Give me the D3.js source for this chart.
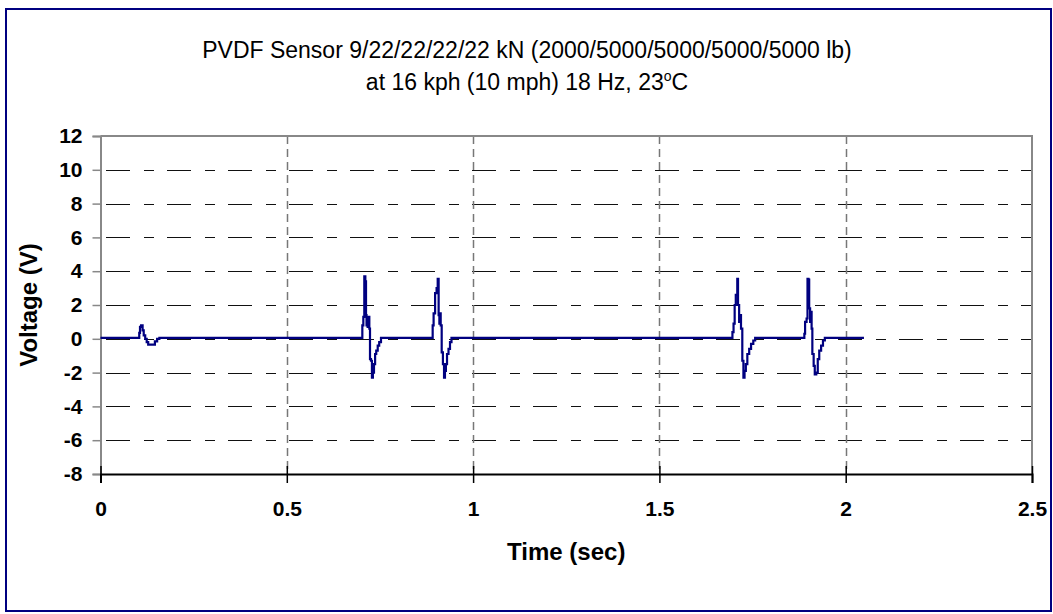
<!DOCTYPE html>
<html>
<head>
<meta charset="utf-8">
<script src="https://cdn.jsdelivr.net/npm/d3@7"></script>
<style>
  html, body { margin: 0; padding: 0; background: #fff; }
  svg { display: block; }
  text { font-family: "Liberation Sans", Arial, Helvetica, sans-serif; }
</style>
</head>
<body>
<svg id="chart" width="1053" height="614"></svg>
<script>
// ---------- data ----------
const titleLine1 = "PVDF Sensor 9/22/22/22/22 kN (2000/5000/5000/5000/5000 lb)";
const titleLine2 = "at 16 kph (10 mph) 18 Hz, 23";
const xTitle = "Time (sec)";
const yTitle = "Voltage (V)";
const xTicks = [0, 0.5, 1, 1.5, 2, 2.5];
const yTicks = [-8, -6, -4, -2, 0, 2, 4, 6, 8, 10, 12];

const timeSec = [
  0, 0.104, 0.106, 0.109, 0.113, 0.116, 0.120, 0.124, 0.128, 0.146, 0.152, 0.158, 0.164,
  0.7000, 0.7027, 0.7054, 0.7080, 0.7108, 0.7126, 0.7140, 0.7153, 0.7170, 0.7188, 0.7215,
  0.7233, 0.7260, 0.7285, 0.7310, 0.7340, 0.7370, 0.7400, 0.7440, 0.7480, 0.7528,
  0.8915, 0.8940, 0.8980, 0.9020, 0.9050, 0.9075, 0.9095, 0.9110, 0.9130,
  0.9157, 0.9190, 0.9220, 0.9245, 0.9270, 0.9300, 0.9340, 0.9380, 0.9420,
  1.6960, 1.6990, 1.7020, 1.7050, 1.7090, 1.7110, 1.7140, 1.7160, 1.7190,
  1.7225, 1.7255, 1.7285, 1.7320, 1.7360, 1.7410, 1.7460, 1.7520, 1.7570,
  1.8890, 1.8910, 1.8950, 1.8975, 1.9000, 1.9020, 1.9045, 1.9065, 1.9085,
  1.9105, 1.9140, 1.9170, 1.9210, 1.9250, 1.9290, 1.9340, 1.9390, 1.9440,
  2.049
];
const voltage = [
  0.05, 0.35, 0.70, 0.80, 0.50, 0.20, 0.00, -0.20, -0.35, -0.15, 0.00, 0.05, 0.05,
  0.05, 0.80, 1.30, 3.70, 3.40, 1.40, 0.80, 1.30, 0.70, 1.30, 0.60,
  -1.20, -1.30, -2.30, -2.00, -1.50, -0.90, -0.70, -0.40, -0.20, 0.05,
  0.80, 1.50, 2.70, 3.00, 3.55, 1.40, 0.90, 1.50, 0.80,
  -0.80, -1.50, -2.30, -1.90, -1.50, -0.90, -0.60, -0.20, 0.05,
  0.40, 0.90, 2.00, 2.60, 3.55, 2.00, 1.00, 1.40, 0.60,
  -1.30, -2.30, -1.90, -1.50, -0.90, -0.60, -0.30, -0.10, 0.05,
  0.30, 1.00, 1.20, 3.55, 3.50, 1.80, 1.00, 1.60, 0.60,
  -0.90, -1.60, -2.10, -2.00, -1.20, -0.70, -0.40, -0.10, 0.05,
  0.05
];

// ---------- layout ----------
const svg = d3.select("#chart");
const plot = { left: 100.5, right: 1032, top: 136, bottom: 474 };

const x = d3.scaleLinear().domain([0, 2.5]).range([plot.left, plot.right]);
const y = d3.scaleLinear().domain([-8, 12]).range([plot.bottom, plot.top]);

// outer frame
svg.append("rect")
  .attr("x", 6).attr("y", 9).attr("width", 1045).attr("height", 602)
  .attr("fill", "#fff").attr("stroke", "#000080").attr("stroke-width", 2);

// horizontal gridlines (dark dashed)
svg.append("g").selectAll("line")
  .data(yTicks.filter(d => d > -8 && d < 12))
  .join("line")
  .attr("x1", plot.left).attr("x2", plot.right)
  .attr("y1", d => Math.round(y(d)) + 0.5).attr("y2", d => Math.round(y(d)) + 0.5)
  .attr("stroke", "#111").attr("stroke-width", 1)
  .attr("stroke-dasharray", "24,14,10,13").attr("stroke-dashoffset", 55.5);

// vertical gridlines (gray dashed)
svg.append("g").selectAll("line")
  .data(xTicks.filter(d => d > 0 && d < 2.5))
  .join("line")
  .attr("x1", d => Math.round(x(d)) + 0.5).attr("x2", d => Math.round(x(d)) + 0.5)
  .attr("y1", plot.top).attr("y2", plot.bottom)
  .attr("stroke", "#777").attr("stroke-width", 1.5)
  .attr("stroke-dasharray", "8,5");

// plot area top and right border (gray)
svg.append("path")
  .attr("d", `M${plot.left},${plot.top}H${plot.right}V${plot.bottom}`)
  .attr("fill", "none").attr("stroke", "#888").attr("stroke-width", 2);

// y axis
const yAxis = svg.append("g")
  .attr("transform", `translate(${plot.left},0)`)
  .call(d3.axisLeft(y).tickValues(yTicks).tickSize(8).tickPadding(10).tickFormat(d => String(d)));
yAxis.select(".domain").attr("stroke", "#888").attr("stroke-width", 2);
yAxis.selectAll(".tick line").attr("stroke", "#888").attr("stroke-width", 1.5);
yAxis.selectAll(".tick text")
  .attr("font-family", "'Liberation Sans', Arial, sans-serif")
  .attr("font-size", 21).attr("font-weight", "bold").attr("fill", "#000");

// x axis at -8
const xAxis = svg.append("g")
  .attr("transform", `translate(0,${plot.bottom})`)
  .call(d3.axisBottom(x).tickValues(xTicks).tickSize(9).tickPadding(18).tickFormat(d => String(d)));
xAxis.select(".domain").attr("stroke", "#000").attr("stroke-width", 2);
xAxis.selectAll(".tick line").attr("y1", -8).attr("y2", 9).attr("stroke", "#000").attr("stroke-width", 1.5);
xAxis.selectAll(".tick text")
  .attr("font-family", "'Liberation Sans', Arial, sans-serif")
  .attr("font-size", 21).attr("font-weight", "bold").attr("fill", "#000");

// data line
const pts = timeSec.map((t, i) => [t, voltage[i]]);
svg.append("path")
  .datum(pts)
  .attr("d", d3.line().x(d => x(d[0])).y(d => y(d[1])).curve(d3.curveStepAfter))
  .attr("fill", "none").attr("stroke", "#000080").attr("stroke-width", 2.2)
  .attr("stroke-linejoin", "miter");

// titles
svg.append("text")
  .attr("x", 527).attr("y", 58).attr("text-anchor", "middle")
  .attr("font-size", 23).attr("fill", "#000")
  .text(titleLine1);
const t2 = svg.append("text")
  .attr("x", 527).attr("y", 90).attr("text-anchor", "middle")
  .attr("font-size", 23).attr("fill", "#000");
t2.append("tspan").text(titleLine2);
t2.append("tspan").attr("font-size", 14).attr("dy", -9).text("o");
t2.append("tspan").attr("dy", 9).text("C");

svg.append("text")
  .attr("x", (plot.left + plot.right) / 2).attr("y", 560).attr("text-anchor", "middle")
  .attr("font-size", 24).attr("font-weight", "bold").attr("fill", "#000")
  .text(xTitle);

svg.append("text")
  .attr("transform", `translate(37,${(plot.top + plot.bottom) / 2}) rotate(-90)`)
  .attr("text-anchor", "middle")
  .attr("font-size", 24).attr("font-weight", "bold").attr("fill", "#000")
  .text(yTitle);
</script>
</body>
</html>
